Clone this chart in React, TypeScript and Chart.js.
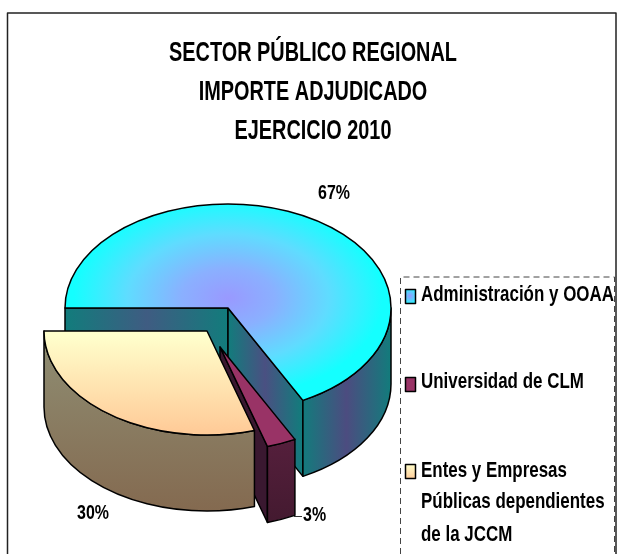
import React, { useEffect, useRef } from "react";
import { Chart, registerables } from "chart.js";

Chart.register(...registerables);

const categories = ["Administración y OOAA", "Universidad de CLM", "Entes y Empresas Públicas dependientes de la JCCM"];
const legendLines = [["Administración y OOAA"], ["Universidad de CLM"], ["Entes y Empresas", "Públicas dependientes", "de la JCCM"]];
const shares = [67.4, 2.9, 29.7];
const titleLines = ["SECTOR PÚBLICO REGIONAL", "IMPORTE ADJUDICADO", "EJERCICIO 2010"];

const FONT = '"Liberation Sans", Arial, sans-serif';
const RX = 163, RY = 104, DEPTH = 76;
const APEX = [{ x: 228, y: 308 }, { x: 220, y: 347 }, { x: 207, y: 331 }];
const TWO = Math.PI * 2;

function text(ctx: CanvasRenderingContext2D, s: string, x: number, y: number, size: number, squeeze: number, align: "left" | "center" = "left") {
  ctx.save();
  ctx.font = `bold ${size}px ${FONT}`;
  ctx.fillStyle = "#000";
  ctx.textBaseline = "middle";
  ctx.textAlign = align;
  ctx.translate(x, y);
  ctx.scale(squeeze, 1);
  ctx.fillText(s, 0, 0);
  ctx.restore();
}

function hGrad(ctx: CanvasRenderingContext2D, x0: number, x1: number, edge: string, mid: string) {
  const g = ctx.createLinearGradient(x0, 0, x1, 0);
  g.addColorStop(0, edge);
  g.addColorStop(0.5, mid);
  g.addColorStop(1, edge);
  return g;
}
function vGrad(ctx: CanvasRenderingContext2D, y0: number, y1: number, a: string, b: string) {
  const g = ctx.createLinearGradient(0, y0, 0, y1);
  g.addColorStop(0, a);
  g.addColorStop(1, b);
  return g;
}

function outline(ctx: CanvasRenderingContext2D) {
  ctx.strokeStyle = "#000";
  ctx.lineWidth = 1.5;
  ctx.lineJoin = "round";
  ctx.stroke();
}
function paint(ctx: CanvasRenderingContext2D, fill: string | CanvasGradient) {
  ctx.fillStyle = fill;
  ctx.fill();
  outline(ctx);
}

function topPath(ctx: CanvasRenderingContext2D, c: { x: number; y: number }, a0: number, a1: number) {
  ctx.beginPath();
  ctx.moveTo(c.x, c.y);
  ctx.ellipse(c.x, c.y, RX, RY, 0, a0, a1);
  ctx.closePath();
}

function rimWall(ctx: CanvasRenderingContext2D, c: { x: number; y: number }, a0: number, a1: number, fill: string | CanvasGradient) {
  ctx.beginPath();
  ctx.ellipse(c.x, c.y, RX, RY, 0, a0, a1);
  ctx.ellipse(c.x, c.y + DEPTH, RX, RY, 0, a1, a0, true);
  ctx.closePath();
  paint(ctx, fill);
}

function cutWall(ctx: CanvasRenderingContext2D, c: { x: number; y: number }, a: number, fill: string | CanvasGradient) {
  const px = c.x + RX * Math.cos(a), py = c.y + RY * Math.sin(a);
  ctx.beginPath();
  ctx.moveTo(c.x, c.y);
  ctx.lineTo(px, py);
  ctx.lineTo(px, py + DEPTH);
  ctx.lineTo(c.x, c.y + DEPTH);
  ctx.closePath();
  paint(ctx, fill);
}

const pie3d = {
  id: "pie3d",
  beforeDatasetsDraw(chart: any) {
    const ctx: CanvasRenderingContext2D = chart.ctx;
    const [blue, plum, cream] = chart.getDatasetMeta(0).data;

    // Blue slice: inner cut faces, outer wall, then the top
    const bEnd = blue.endAngle;
    cutWall(ctx, APEX[0], blue.startAngle, hGrad(ctx, 66, 228, "#127c7c", "#3f5c82"));
    cutWall(ctx, APEX[0], bEnd, hGrad(ctx, 228, 302, "#127c7c", "#4a5082"));
    rimWall(ctx, APEX[0], 0, bEnd - TWO, hGrad(ctx, 302, 391, "#127c7c", "#4c4c80"));
    topPath(ctx, APEX[0], blue.startAngle, bEnd);
    ctx.save();
    ctx.translate(APEX[0].x, APEX[0].y - 10);
    ctx.scale(RX, RY);
    const rg = ctx.createRadialGradient(0, 0, 0, 0, 0, 0.95);
    rg.addColorStop(0, "#9999ff");
    rg.addColorStop(0.3, "#8ab0ff");
    rg.addColorStop(0.65, "#5fdcff");
    rg.addColorStop(1, "#14ffff");
    ctx.fillStyle = rg;
    ctx.fill();
    ctx.restore();
    outline(ctx);

    // Plum slice
    cutWall(ctx, APEX[1], plum.endAngle - TWO, "#3a1830");
    rimWall(ctx, APEX[1], plum.startAngle - TWO, plum.endAngle - TWO, vGrad(ctx, 440, 520, "#551f3c", "#441a30"));
    topPath(ctx, APEX[1], plum.startAngle - TWO, plum.endAngle - TWO);
    paint(ctx, "#993366");

    // Cream slice
    rimWall(ctx, APEX[2], cream.startAngle - TWO, cream.endAngle - TWO, vGrad(ctx, 331, 510, "#8f8f74", "#846a50"));
    topPath(ctx, APEX[2], cream.startAngle - TWO, cream.endAngle - TWO);
    paint(ctx, vGrad(ctx, 335, 430, "#ffffcc", "#ffcc99"));
    return false;
  },
  afterDraw(chart: any) {
    const ctx: CanvasRenderingContext2D = chart.ctx;

    // Legend box
    ctx.save();
    ctx.strokeStyle = "#444";
    ctx.lineWidth = 1;
    ctx.setLineDash([6, 4]);
    ctx.beginPath();
    ctx.moveTo(400.5, 554);
    ctx.lineTo(400.5, 277);
    ctx.lineTo(614.5, 277);
    ctx.lineTo(614.5, 554);
    ctx.stroke();
    ctx.restore();

    // Frame
    ctx.strokeStyle = "#222";
    ctx.lineWidth = 1.5;
    ctx.beginPath();
    ctx.moveTo(7.5, 554);
    ctx.lineTo(7.5, 13);
    ctx.lineTo(616, 13);
    ctx.lineTo(616, 554);
    ctx.stroke();

    // Title
    [53, 92, 131].forEach((y, i) => text(ctx, titleLines[i], 313, y, 28, 0.71, "center"));

    // Percent labels
    const labels = chart.data.datasets[0].data.map((v: number) => `${Math.round(v)}%`);
    text(ctx, labels[0], 318, 193, 21, 0.76);
    text(ctx, labels[1], 303, 515, 21, 0.76);
    text(ctx, labels[2], 77, 513, 21, 0.76);
    ctx.strokeStyle = "#333";
    ctx.lineWidth = 1;
    ctx.beginPath();
    ctx.moveTo(294, 516.5);
    ctx.lineTo(302, 516.5);
    ctx.stroke();

    // Legend
    const sw = [289, 377, 464];
    const lineY = [[295], [382], [471, 502, 535]];
    const swFill = [
      (() => { const g = ctx.createRadialGradient(410, 296, 0, 410, 296, 7); g.addColorStop(0, "#9999ff"); g.addColorStop(1, "#33eeff"); return g; })(),
      "#993366",
      vGrad(ctx, 464, 479, "#ffffcc", "#ffcc99"),
    ];
    categories.forEach((_, i) => {
      ctx.beginPath();
      ctx.rect(405.5, sw[i] + 0.5, 10, 14);
      paint(ctx, swFill[i]);
      legendLines[i].forEach((l, j) => text(ctx, l, 421, lineY[i][j], 22, 0.77));
    });
  },
};

export default function App() {
  const ref = useRef<HTMLCanvasElement>(null);
  useEffect(() => {
    const chart = new Chart(ref.current!, {
      type: "pie",
      data: { labels: categories, datasets: [{ data: shares, backgroundColor: ["#33ddff", "#993366", "#ffe6b3"], borderWidth: 0 }] },
      options: {
        responsive: false,
        animation: false,
        rotation: 270,
        plugins: { legend: { display: false }, tooltip: { enabled: false } },
      },
      plugins: [pie3d],
    } as any);
    return () => chart.destroy();
  }, []);
  return (
    <div style={{ position: "absolute", left: 0, top: 0, width: 618, height: 554, background: "#fff" }}>
      <canvas ref={ref} width={618} height={554} style={{ display: "block" }} />
    </div>
  );
}
